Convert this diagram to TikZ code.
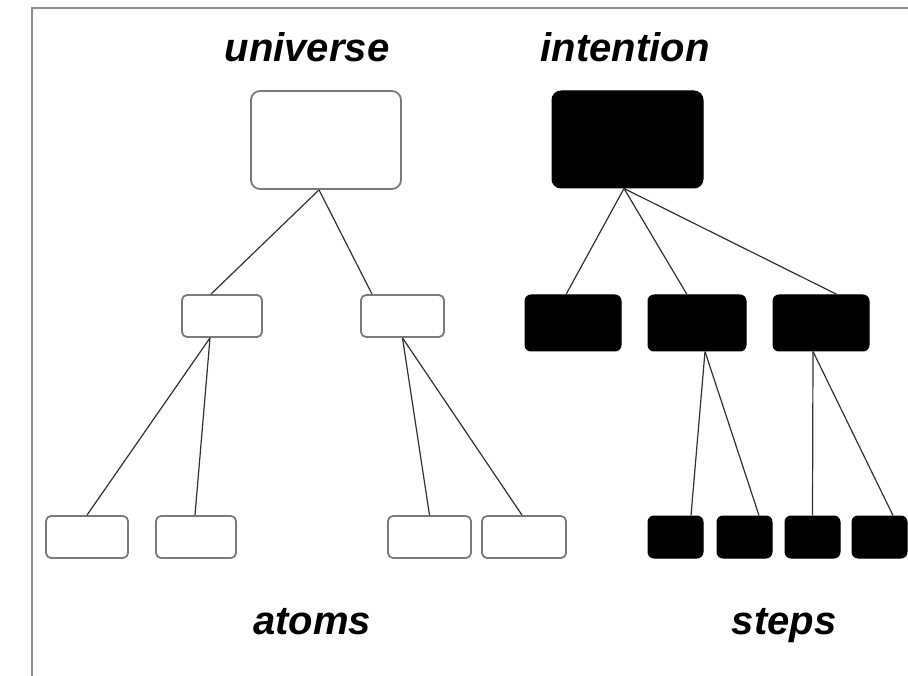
\documentclass[tikz,border=0pt]{standalone}
\usepackage{fontspec}
\setmainfont{Liberation Sans}
\definecolor{framegray}{HTML}{8C8C8C}
\definecolor{boxgray}{HTML}{7A7A7A}
\definecolor{linegray}{HTML}{303030}
\tikzset{
  whitebox/.style={draw=boxgray, line width=1.8pt, fill=white, rounded corners=5pt, inner sep=0pt},
  blackbox/.style={draw=black, line width=1pt, fill=black, rounded corners=6pt, inner sep=0pt},
  conn/.style={draw=linegray, line width=1.2pt},
  lbl/.style={anchor=base, font=\fontsize{40}{48}\selectfont\bfseries\itshape, inner sep=0pt}
}
\begin{document}
\begin{tikzpicture}[x=1pt,y=-1pt]
\useasboundingbox (0,0) rectangle (908,676);
\draw[framegray, line width=2pt] (32,676) -- (32,8) -- (908,8);

\node[lbl] (tu) at (307,62) {universe};
\node[lbl] (ti) at (625,62) {intention};
\node[lbl] (ta) at (312,634) {atoms};
\node[lbl] (ts) at (784,634) {steps};

% universe tree
\node[whitebox, minimum width=150pt, minimum height=98pt, rounded corners=9pt] (U) at (326,140) {};
\node[whitebox, minimum width=80pt, minimum height=42pt] (M1) at (222,316) {};
\node[whitebox, minimum width=83pt, minimum height=42pt] (M2) at (402.5,316) {};
\node[whitebox, minimum width=82pt, minimum height=42pt] (A1) at (87,537) {};
\node[whitebox, minimum width=80pt, minimum height=42pt] (A2) at (196,537) {};
\node[whitebox, minimum width=83pt, minimum height=42pt] (A3) at (429.5,537) {};
\node[whitebox, minimum width=84pt, minimum height=42pt] (A4) at (524,537) {};

% intention tree
\node[blackbox, minimum width=151pt, minimum height=97pt, rounded corners=9pt] (I) at (627.5,139.5) {};
\node[blackbox, minimum width=96pt, minimum height=56pt] (B1) at (573,323) {};
\node[blackbox, minimum width=98pt, minimum height=56pt] (B2) at (697,323) {};
\node[blackbox, minimum width=96pt, minimum height=56pt] (B3) at (821,323) {};
\node[blackbox, minimum width=55pt, minimum height=42pt] (S1) at (675.5,537) {};
\node[blackbox, minimum width=55pt, minimum height=42pt] (S2) at (744.5,537) {};
\node[blackbox, minimum width=55pt, minimum height=42pt] (S3) at (812.5,537) {};
\node[blackbox, minimum width=55pt, minimum height=42pt] (S4) at (879.5,537) {};

% connectors
\draw[conn] ([xshift=-7pt]U.south) -- ([xshift=-11pt]M1.north);
\draw[conn] ([xshift=-7pt]U.south) -- ([xshift=-30.5pt]M2.north);
\draw[conn] ([xshift=-12pt]M1.south) -- (A1.north);
\draw[conn] ([xshift=-12pt]M1.south) -- ([xshift=-1pt]A2.north);
\draw[conn] (M2.south) -- (A3.north);
\draw[conn] (M2.south) -- ([xshift=-2pt]A4.north);

\draw[conn] ([xshift=-3.5pt]I.south) -- ([xshift=-7pt]B1.north);
\draw[conn] ([xshift=-3.5pt]I.south) -- ([xshift=-10pt]B2.north);
\draw[conn] ([xshift=-3.5pt]I.south) -- ([xshift=16pt]B3.north);
\draw[conn] ([xshift=8pt]B2.south) -- ([xshift=15.5pt]S1.north);
\draw[conn] ([xshift=8pt]B2.south) -- ([xshift=14.5pt]S2.north);
\draw[conn] ([xshift=-8pt]B3.south) -- (S3.north);
\draw[conn] ([xshift=-8pt]B3.south) -- ([xshift=13.5pt]S4.north);
\end{tikzpicture}
\end{document}
